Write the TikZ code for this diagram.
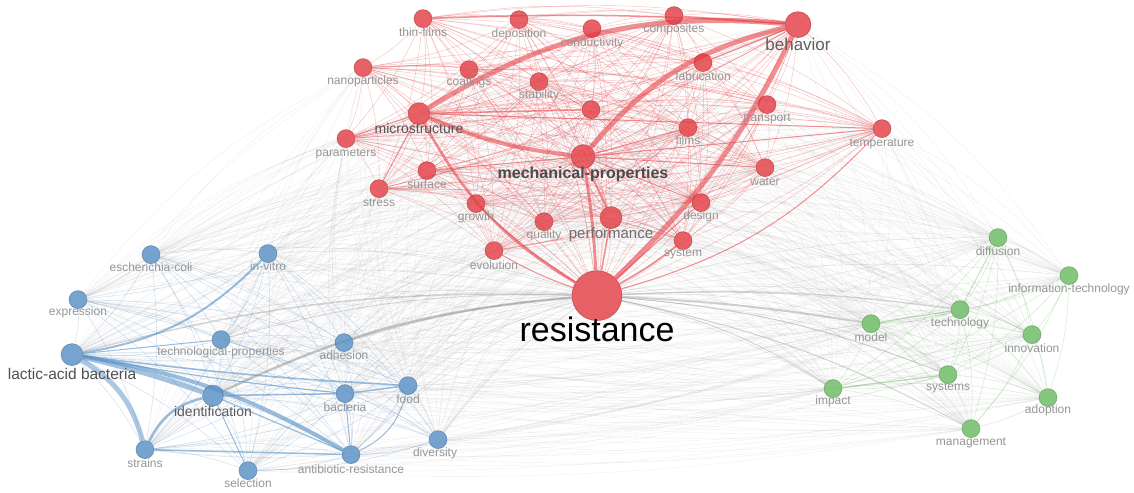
\documentclass[tikz,border=0pt]{standalone}
\usepackage{fontspec}
\setmainfont{Liberation Sans}
\definecolor{nred}{RGB}{226,58,64}
\definecolor{nblue}{RGB}{86,142,196}
\definecolor{ngreen}{RGB}{104,186,96}
\definecolor{ered}{RGB}{230,70,76}
\definecolor{eblue}{RGB}{88,145,200}
\definecolor{egreen}{RGB}{120,195,110}
\definecolor{egray}{RGB}{140,140,140}
\definecolor{lgray}{RGB}{150,150,150}
\pgfdeclarelayer{bg}
\pgfdeclarelayer{edges}
\pgfsetlayers{bg,edges,main}
\tikzset{
  kw/.style={circle, inner sep=0pt, minimum size=18pt, fill opacity=0.8, draw opacity=0.6, line width=0.6pt},
  rk/.style={kw, fill=nred, draw=nred!75!black},
  bk/.style={kw, fill=nblue, draw=nblue!75!black},
  gk/.style={kw, fill=ngreen, draw=ngreen!75!black},
  lbl/.style={inner sep=0pt, text=lgray, font=\fontsize{12}{12}\selectfont},
  redge/.style={draw=ered, line width=0.45pt, draw opacity=0.33},
  bedge/.style={draw=eblue, line width=0.45pt, draw opacity=0.3},
  gedge/.style={draw=egreen, line width=0.45pt, draw opacity=0.35},
  xedge/.style={draw=egray, line width=0.4pt, draw opacity=0.12},
  rs/.style={draw=ered, draw opacity=0.6},
  bs/.style={draw=eblue, draw opacity=0.6},
  xs/.style={draw=egray, draw opacity=0.45},
}
\begin{document}
\begin{tikzpicture}[x=1pt,y=1pt]
\begin{pgfonlayer}{bg}
\path[fill=white, use as bounding box] (0,0) rectangle (1134,-491);
\end{pgfonlayer}
% ---------------- red cluster
\node[rk] (tf) at (423,-17) {};
\node[rk] (dep) at (519,-18) {};
\node[rk] (cond) at (592,-27) {};
\node[rk] (comp) at (674,-14) {};
\node[rk, minimum size=26pt] (beh) at (798,-23) {};
\node[rk] (nano) at (363,-66) {};
\node[rk] (coat) at (469,-68) {};
\node[rk] (stab) at (539,-80) {};
\node[rk] (fab) at (703,-61) {};
\node[rk, minimum size=22pt] (micro) at (419,-112) {};
\node[rk] (unk) at (591,-108) {};
\node[rk] (par) at (346,-137) {};
\node[rk] (films) at (688,-126) {};
\node[rk] (trans) at (767,-103) {};
\node[rk] (temp) at (882,-127) {};
\node[rk, minimum size=24pt] (mech) at (583,-155) {};
\node[rk] (surf) at (427,-169) {};
\node[rk] (water) at (765,-166) {};
\node[rk] (stress) at (379,-187) {};
\node[rk] (growth) at (476,-202) {};
\node[rk] (qual) at (544,-220) {};
\node[rk, minimum size=22pt] (perf) at (611,-216) {};
\node[rk] (design) at (701,-201) {};
\node[rk] (evol) at (494,-249) {};
\node[rk] (sys) at (683,-239) {};
\node[rk, minimum size=50pt] (res) at (597,-294) {};
% ---------------- blue cluster
\node[bk] (eco) at (151,-253) {};
\node[bk] (invit) at (268,-252) {};
\node[bk] (expr) at (78,-298) {};
\node[bk] (techp) at (221,-338) {};
\node[bk] (adh) at (344,-341) {};
\node[bk, minimum size=22pt] (lab) at (72,-353) {};
\node[bk, minimum size=21pt] (ident) at (213,-394) {};
\node[bk] (bact) at (345,-392) {};
\node[bk] (food) at (408,-384) {};
\node[bk] (div) at (438,-438) {};
\node[bk] (strains) at (145,-448) {};
\node[bk] (anti) at (351,-453) {};
\node[bk] (sel) at (248,-469) {};
% ---------------- green cluster
\node[gk] (diff) at (998,-236) {};
\node[gk] (infot) at (1069,-274) {};
\node[gk] (tech) at (960,-308) {};
\node[gk] (model) at (871,-322) {};
\node[gk] (innov) at (1032,-333) {};
\node[gk] (syst) at (948,-373) {};
\node[gk] (impact) at (833,-387) {};
\node[gk] (adopt) at (1048,-396) {};
\node[gk] (mgmt) at (971,-427) {};
% ---------------- edges
\def\redlist{tf,dep,cond,comp,beh,nano,coat,stab,fab,micro,unk,par,films,trans,temp,mech,surf,water,stress,growth,qual,perf,design,evol,sys,res}
\def\redsub{res,mech,micro,perf,beh,stress,surf,growth,evol,qual,sys,design,par,temp,water,nano,films,trans,stab}
\def\bluelist{eco,invit,expr,techp,adh,lab,ident,bact,food,div,strains,anti,sel}
\def\greenlist{diff,infot,tech,model,innov,syst,impact,adopt,mgmt}
\begin{pgfonlayer}{edges}
% inter-cluster grey
\foreach \a in \redsub {
  \foreach \b in \bluelist { \draw[xedge] (\a) to[bend right=12] (\b); }
  \foreach \b in \greenlist { \draw[xedge] (\a) to[bend left=12] (\b); }
}
\foreach \a in \bluelist {
  \foreach \b in \greenlist { \draw[xedge] (\a) to[bend right=6] (\b); }
}
\foreach \b in \bluelist { \draw[xedge, draw opacity=0.25, line width=0.5pt] (res) to[bend right=10] (\b); }
\foreach \b in \greenlist { \draw[xedge, draw opacity=0.25, line width=0.5pt] (res) to[bend left=8] (\b); }
% intra-cluster meshes
\foreach \a [count=\i] in \bluelist {
  \foreach \b [count=\j] in \bluelist {
    \ifnum\j>\i \draw[bedge] (\a) to[bend left=8] (\b); \fi
  }
}
\foreach \a [count=\i] in \greenlist {
  \foreach \b [count=\j] in \greenlist {
    \ifnum\j>\i \draw[gedge] (\a) to[bend left=8] (\b); \fi
  }
}
\foreach \a [count=\i] in \redlist {
  \foreach \b [count=\j] in \redlist {
    \ifnum\j>\i \draw[redge] (\a) to[bend left=8] (\b); \fi
  }
}
% strong grey
\draw[xs, line width=2.5pt] (res) to[bend right=10] (ident);
\draw[xs, line width=1.5pt, draw opacity=0.35] (res) to[bend right=8] (lab);
\draw[xs, line width=1.2pt, draw opacity=0.3] (res) to[bend right=6] (adh);
\draw[xs, line width=1pt, draw opacity=0.3] (res) to[bend right=8] (techp);
\draw[xs, line width=2pt, draw opacity=0.4] (res) to[bend left=3] (model);
\draw[xs, line width=1.4pt, draw opacity=0.35] (res) to[bend left=5] (tech);
\draw[xs, line width=1.2pt, draw opacity=0.3] (res) to[bend left=10] (impact);
\draw[xs, line width=1pt, draw opacity=0.3] (res) to[bend left=8] (syst);
\draw[xs, line width=1pt, draw opacity=0.25] (res) to[bend left=8] (mgmt);
% strong blue
\draw[bs, line width=5pt, draw opacity=0.55] (lab) to[bend left=3] (ident);
\draw[bs, line width=4pt] (lab) to[bend left=10] (anti);
\draw[bs, line width=5pt, draw opacity=0.5] (lab) to[bend left=22] (strains);
\draw[bs, line width=2pt] (lab) to[bend right=18] (invit);
\draw[bs, line width=1.5pt] (lab) to[bend right=2] (food);
\draw[bs, line width=1.2pt] (lab) to[bend right=2] (bact);
\draw[bs, line width=1pt] (lab) to (techp);
\draw[bs, line width=2.5pt] (strains) to[bend left=25] (ident);
\draw[bs, line width=1.5pt] (strains) to (anti);
\draw[bs, line width=1.5pt] (ident) to (bact);
\draw[bs, line width=1pt] (ident) to (sel);
\draw[bs, line width=1.2pt] (ident) to (anti);
\draw[bs, line width=1.5pt] (bact) to (food);
\draw[bs, line width=1pt] (anti) to[bend right=25] (food);
\draw[bs, line width=1pt] (anti) to (bact);
% strong green
\draw[gedge, line width=1pt, draw opacity=0.5] (model) to (tech);
\draw[gedge, line width=1pt, draw opacity=0.5] (impact) to (syst);
\draw[gedge, line width=0.8pt, draw opacity=0.5] (tech) to (diff);
% strong red
\draw[rs, line width=5pt] (micro) to[bend left=18] (beh);
\draw[rs, line width=5pt] (mech) to[bend left=18] (beh);
\draw[rs, line width=5pt] (beh) to[bend left=10] (res);
\draw[rs, line width=4pt] (micro) to[bend right=8] (mech);
\draw[rs, line width=3pt] (mech) to[bend left=3] (res);
\draw[rs, line width=2.5pt] (micro) to[bend right=15] (res);
\draw[rs, line width=1.5pt] (tf) to[bend left=3] (beh);
\draw[rs, line width=1.2pt] (comp) to (beh);
\draw[rs, line width=1.5pt] (sys) to[bend left=5] (res);
\draw[rs, line width=1.5pt] (perf) to (res);
\draw[rs, line width=1pt] (evol) to[bend right=5] (res);
\draw[rs, line width=1.2pt] (growth) to[bend right=5] (res);
\draw[rs, line width=1pt] (design) to (res);
\draw[rs, line width=1pt] (temp) to[bend left=15] (res);
\draw[rs, line width=1pt] (temp) to (mech);
\draw[rs, line width=1pt] (temp) to (micro);
\draw[rs, line width=1.5pt] (micro) to (unk);
\draw[rs, line width=2pt] (mech) to (perf);
\draw[rs, line width=1pt] (beh) to (fab);
\draw[rs, line width=1pt] (mech) to (design);
\draw[rs, line width=1pt] (mech) to (water);
\draw[rs, line width=1pt] (mech) to (films);
\draw[rs, line width=1pt] (mech) to (surf);
\draw[rs, line width=1pt] (micro) to (stress);
\draw[rs, line width=1pt] (micro) to (par);
\end{pgfonlayer}
% ---------------- labels
\node[lbl] (tfL) at ([yshift=-14pt]tf.center) {thin-films};
\node[lbl] (depL) at ([yshift=-14.5pt]dep.center) {deposition};
\node[lbl] (condL) at ([yshift=-14.5pt]cond.center) {conductivity};
\node[lbl] (compL) at ([yshift=-14pt]comp.center) {composites};
\node[lbl, text={rgb,255:red,95;green,95;blue,95}, font=\fontsize{17}{17}\selectfont] (behL) at ([yshift=-20pt]beh.center) {behavior};
\node[lbl] (nanoL) at ([yshift=-14pt]nano.center) {nanoparticles};
\node[lbl] (coatL) at ([yshift=-13pt]coat.center) {coatings};
\node[lbl] (stabL) at ([yshift=-14pt]stab.center) {stability};
\node[lbl] (fabL) at ([yshift=-14pt]fab.center) {fabrication};
\node[lbl, text={rgb,255:red,85;green,85;blue,85}, font=\fontsize{14}{14}\selectfont] (microL) at ([yshift=-15pt]micro.center) {microstructure};
\node[lbl] (parL) at ([yshift=-15pt]par.center) {parameters};
\node[lbl] (filmsL) at ([yshift=-13pt]films.center) {films};
\node[lbl] (transL) at ([yshift=-14pt]trans.center) {transport};
\node[lbl] (tempL) at ([yshift=-15pt]temp.center) {temperature};
\node[lbl, text={rgb,255:red,75;green,75;blue,75}, font=\fontsize{16}{16}\selectfont\bfseries] (mechL) at ([yshift=-18pt]mech.center) {mechanical-properties};
\node[lbl] (surfL) at ([yshift=-14pt]surf.center) {surface};
\node[lbl] (waterL) at ([yshift=-14pt]water.center) {water};
\node[lbl] (stressL) at ([yshift=-14pt]stress.center) {stress};
\node[lbl] (growthL) at ([yshift=-14pt]growth.center) {growth};
\node[lbl] (qualL) at ([yshift=-14pt]qual.center) {quality};
\node[lbl, text={rgb,255:red,110;green,110;blue,110}, font=\fontsize{15}{15}\selectfont] (perfL) at ([yshift=-17pt]perf.center) {performance};
\node[lbl] (designL) at ([yshift=-14pt]design.center) {design};
\node[lbl] (evolL) at ([yshift=-15pt]evol.center) {evolution};
\node[lbl] (sysL) at ([yshift=-13pt]sys.center) {system};
\node[lbl, text=black, font=\fontsize{34}{34}\selectfont] (resL) at ([yshift=-34pt]res.center) {resistance};
\node[lbl] (ecoL) at ([yshift=-13pt]eco.center) {escherichia-coli};
\node[lbl] (invitL) at ([yshift=-13pt]invit.center) {in-vitro};
\node[lbl] (exprL) at ([yshift=-13pt]expr.center) {expression};
\node[lbl] (techpL) at ([yshift=-13pt]techp.center) {technological-properties};
\node[lbl] (adhL) at ([yshift=-13pt]adh.center) {adhesion};
\node[lbl, text={rgb,255:red,80;green,80;blue,80}, font=\fontsize{15.5}{15.5}\selectfont] (labL) at ([yshift=-19pt]lab.center) {lactic-acid bacteria};
\node[lbl, text={rgb,255:red,90;green,90;blue,90}, font=\fontsize{14}{14}\selectfont] (identL) at ([yshift=-16pt]ident.center) {identification};
\node[lbl] (bactL) at ([yshift=-14pt]bact.center) {bacteria};
\node[lbl] (foodL) at ([yshift=-14pt]food.center) {food};
\node[lbl] (divL) at ([xshift=-3pt,yshift=-14pt]div.center) {diversity};
\node[lbl] (strainsL) at ([yshift=-14pt]strains.center) {strains};
\node[lbl] (antiL) at ([yshift=-15pt]anti.center) {antibiotic-resistance};
\node[lbl] (selL) at ([yshift=-13pt]sel.center) {selection};
\node[lbl] (diffL) at ([yshift=-14pt]diff.center) {diffusion};
\node[lbl] (infotL) at ([yshift=-14pt]infot.center) {information-technology};
\node[lbl] (techL) at ([yshift=-14pt]tech.center) {technology};
\node[lbl] (modelL) at ([yshift=-14pt]model.center) {model};
\node[lbl] (innovL) at ([yshift=-14pt]innov.center) {innovation};
\node[lbl] (systL) at ([yshift=-13pt]syst.center) {systems};
\node[lbl] (impactL) at ([yshift=-13pt]impact.center) {impact};
\node[lbl] (adoptL) at ([yshift=-13pt]adopt.center) {adoption};
\node[lbl] (mgmtL) at ([yshift=-14pt]mgmt.center) {management};
\end{tikzpicture}
\end{document}
